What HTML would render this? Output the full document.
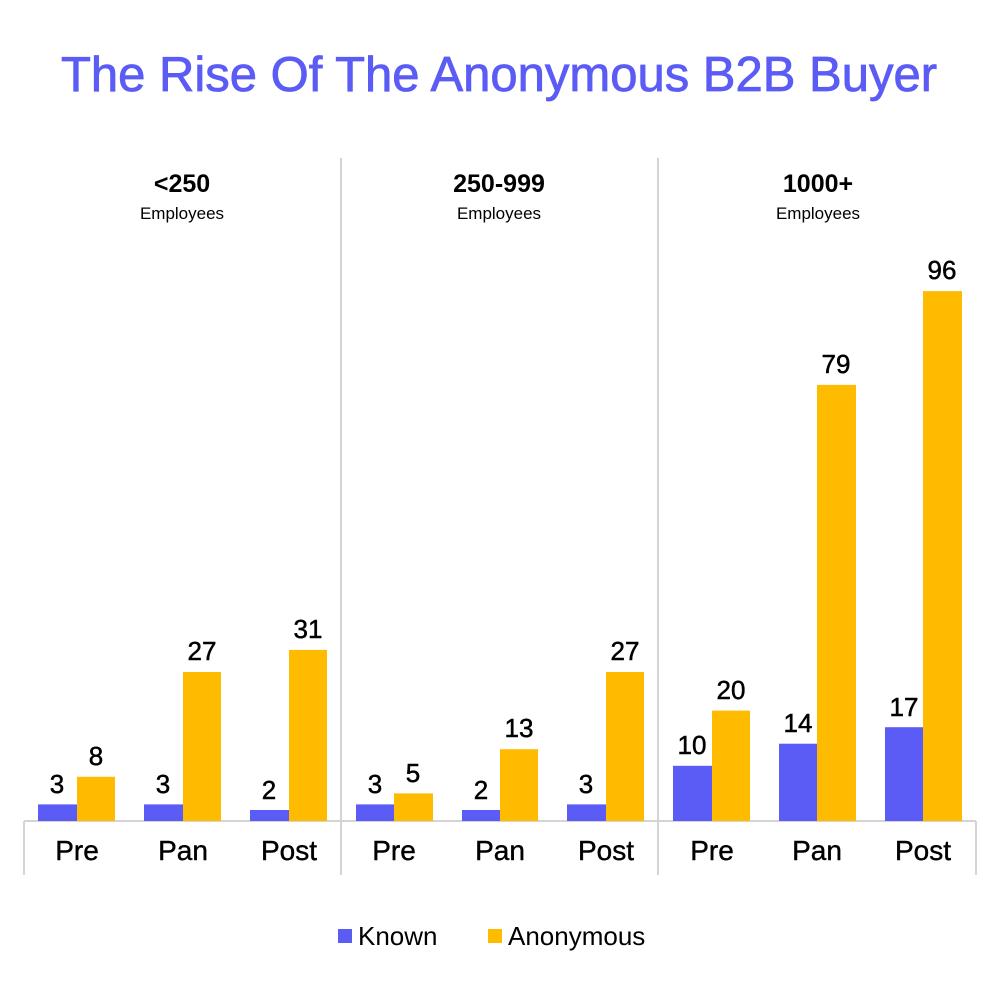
<!DOCTYPE html>
<html><head><meta charset="utf-8"><style>body{margin:0;background:#fff}svg{display:block}text{font-family:"Liberation Sans","DejaVu Sans",sans-serif}</style></head>
<body>
<svg width="1000" height="1000" viewBox="0 0 1000 1000">
<text x="499" y="91" text-anchor="middle" font-size="49" fill="#5b5bf5" stroke="#5b5bf5" stroke-width="0.8">The Rise Of The Anonymous B2B Buyer</text>
<g stroke="#d4d4d4" stroke-width="2">
<line x1="341" y1="158" x2="341" y2="875"/><line x1="658" y1="158" x2="658" y2="875"/>
<line x1="24" y1="821" x2="24" y2="875"/><line x1="976" y1="821" x2="976" y2="875"/>
<line x1="24" y1="821" x2="976" y2="821"/>
</g>
<g text-anchor="middle" fill="#000">
<text x="182" y="192" font-size="25" font-weight="bold">&lt;250</text><text x="182" y="219" font-size="17">Employees</text>
<text x="499" y="192" font-size="25" font-weight="bold">250-999</text><text x="499" y="219" font-size="17">Employees</text>
<text x="818" y="192" font-size="25" font-weight="bold">1000+</text><text x="818" y="219" font-size="17">Employees</text>
</g>
<g fill="#5b5bf5">
<rect x="38" y="804.4" width="39" height="16.6"/>
<rect x="144" y="804.4" width="39" height="16.6"/>
<rect x="250" y="810" width="39" height="11"/>
<rect x="356" y="804.4" width="39" height="16.6"/>
<rect x="462" y="810" width="39" height="11"/>
<rect x="567" y="804.4" width="39" height="16.6"/>
<rect x="673" y="765.8" width="39" height="55.2"/>
<rect x="779" y="743.7" width="39" height="77.3"/>
<rect x="885" y="727.2" width="39" height="93.8"/>
</g>
<g fill="#ffbb00">
<rect x="77" y="776.8" width="38" height="44.2"/>
<rect x="183" y="672" width="38" height="149"/>
<rect x="289" y="649.9" width="38" height="171.1"/>
<rect x="394" y="793.4" width="39" height="27.6"/>
<rect x="500" y="749.2" width="38" height="71.8"/>
<rect x="606" y="672" width="38" height="149"/>
<rect x="712" y="710.6" width="38" height="110.4"/>
<rect x="817" y="384.9" width="39" height="436.1"/>
<rect x="923" y="291.1" width="39" height="529.9"/>
</g>
<g text-anchor="middle" font-size="26" fill="#000" stroke="#000" stroke-width="0.5">
<text x="57" y="793">3</text><text x="96" y="765">8</text>
<text x="163" y="793">3</text><text x="202" y="660">27</text>
<text x="269" y="799">2</text><text x="308" y="638">31</text>
<text x="375" y="793">3</text><text x="413" y="782">5</text>
<text x="481" y="799">2</text><text x="519" y="737">13</text>
<text x="586" y="793">3</text><text x="625" y="660">27</text>
<text x="692" y="754">10</text><text x="731" y="699">20</text>
<text x="798" y="732">14</text><text x="836" y="373">79</text>
<text x="904" y="716">17</text><text x="942" y="279">96</text>
</g>
<g text-anchor="middle" font-size="28" fill="#000" stroke="#000" stroke-width="0.4">
<text x="77" y="860">Pre</text><text x="183" y="860">Pan</text><text x="289" y="860">Post</text>
<text x="394" y="860">Pre</text><text x="500" y="860">Pan</text><text x="606" y="860">Post</text>
<text x="712" y="860">Pre</text><text x="817" y="860">Pan</text><text x="923" y="860">Post</text>
</g>
<rect x="338" y="929" width="14" height="14" fill="#5b5bf5"/><text x="358" y="945" font-size="26">Known</text>
<rect x="488" y="929" width="14" height="14" fill="#ffbb00"/><text x="508" y="945" font-size="26">Anonymous</text>
</svg>
</body></html>
